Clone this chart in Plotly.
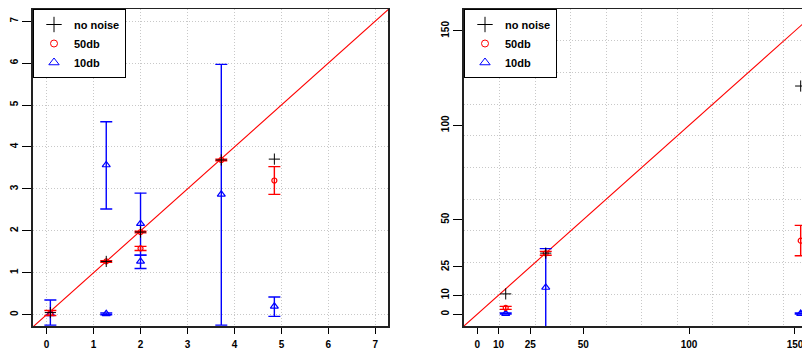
import plotly.graph_objects as go

# ---------------- data: left panel ----------------
L_nonoise_x = [0.08, 1.27, 2.00, 3.72, 4.85]
L_nonoise_y = [0.05, 1.27, 1.97, 3.69, 3.71]

L_50db_x  = [0.08, 1.27, 2.00, 2.00, 3.72, 4.85]
L_50db_y  = [0.04, 1.27, 1.97, 1.58, 3.69, 3.20]
L_50db_lo = [-0.02, 1.25, 1.95, 1.53, 3.67, 2.87]
L_50db_hi = [0.10, 1.29, 1.99, 1.63, 3.71, 3.53]

L_10db_x  = [0.08, 1.27, 1.27, 2.00, 2.00, 3.72, 4.85]
L_10db_y  = [0.02, 3.57, 0.02, 2.17, 1.27, 2.87, 0.20]
L_10db_lo = [-0.25, 2.52, 0.00, 1.42, 1.10, -0.25, -0.04]
L_10db_hi = [0.35, 4.60, 0.04, 2.90, 1.42, 5.97, 0.42]

L_ticks = [0, 1, 2, 3, 4, 5, 6, 7]
L_xrange = [-0.29, 7.27]
L_yrange = [-0.27, 7.29]

# ---------------- data: right panel ----------------
R_nonoise_x = [13.4, 32.3, 152.7]
R_nonoise_y = [10.7, 32.3, 120.8]

R_50db_x  = [13.4, 32.3, 152.7]
R_50db_y  = [3.3, 32.2, 38.9]
R_50db_lo = [2.5, 31.2, 30.9]
R_50db_hi = [4.1, 33.2, 47.0]

R_10db_x  = [13.4, 32.3, 152.7]
R_10db_y  = [0.3, 14.1, 0.3]
R_10db_lo = [0.0, -20.0, 0.0]
R_10db_hi = [0.6, 34.7, 0.6]

R_ticks = [0, 10, 25, 50, 100, 150]
R_xrange = [-6.3, 157.1]
R_yrange = [-6.3, 161.6]

RED = "#FF0000"
BLUE = "#0000FF"
BLACK = "#000000"

fig = go.Figure()


def add_panel(xa, ya, nx, ny, fx, fy, flo, fhi, tx, ty, tlo, thi, rng, leg):
    # diagonal y = x
    fig.add_trace(go.Scatter(x=[rng[0], rng[1] + 20 * (rng[1] - rng[0])],
                             y=[rng[0], rng[1] + 20 * (rng[1] - rng[0])],
                             mode="lines", line=dict(color=RED, width=1.1),
                             xaxis=xa, yaxis=ya, showlegend=False, hoverinfo="skip"))
    # 10db
    fig.add_trace(go.Scatter(
        x=tx, y=ty, mode="markers", xaxis=xa, yaxis=ya, showlegend=False,
        marker=dict(symbol="triangle-up-open", size=7, color=BLUE, line=dict(width=1.2, color=BLUE)),
        error_y=dict(type="data", symmetric=False,
                     array=[h - v for h, v in zip(thi, ty)],
                     arrayminus=[v - l for l, v in zip(tlo, ty)],
                     color=BLUE, thickness=1.4, width=6)))
    # 50db
    fig.add_trace(go.Scatter(
        x=fx, y=fy, mode="markers", xaxis=xa, yaxis=ya, showlegend=False,
        marker=dict(symbol="circle-open", size=5, color=RED, line=dict(width=1.2, color=RED)),
        error_y=dict(type="data", symmetric=False,
                     array=[h - v for h, v in zip(fhi, fy)],
                     arrayminus=[v - l for l, v in zip(flo, fy)],
                     color=RED, thickness=1.4, width=6)))
    # no noise
    fig.add_trace(go.Scatter(
        x=nx, y=ny, mode="markers", xaxis=xa, yaxis=ya, showlegend=False,
        marker=dict(symbol="cross-thin-open", size=8, color=BLACK, line=dict(width=1, color=BLACK))))
    # legend-only entries
    fig.add_trace(go.Scatter(x=[None], y=[None], mode="markers", name="no noise", legend=leg,
                             xaxis=xa, yaxis=ya,
                             marker=dict(symbol="cross-thin-open", size=11, color=BLACK,
                                         line=dict(width=1, color=BLACK))))
    fig.add_trace(go.Scatter(x=[None], y=[None], mode="markers", name="50db", legend=leg,
                             xaxis=xa, yaxis=ya,
                             marker=dict(symbol="circle-open", size=7, color=RED,
                                         line=dict(width=1, color=RED))))
    fig.add_trace(go.Scatter(x=[None], y=[None], mode="markers", name="10db", legend=leg,
                             xaxis=xa, yaxis=ya,
                             marker=dict(symbol="triangle-up-open", size=9, color=BLUE,
                                         line=dict(width=1, color=BLUE))))


add_panel("x", "y", L_nonoise_x, L_nonoise_y, L_50db_x, L_50db_y, L_50db_lo, L_50db_hi,
          L_10db_x, L_10db_y, L_10db_lo, L_10db_hi, L_xrange, "legend")
add_panel("x2", "y2", R_nonoise_x, R_nonoise_y, R_50db_x, R_50db_y, R_50db_lo, R_50db_hi,
          R_10db_x, R_10db_y, R_10db_lo, R_10db_hi, R_xrange, "legend2")

tickfont = dict(family="Liberation Sans, Arial, sans-serif", size=10, color="black", weight="bold")
GRID = "#C8C8C8"
GDASH = "1px,2px"
LINE = "#222222"

# page body has an 8px margin: the figure is sized so it ends at the window edge
W, H = 802, 341
ML, MR, MT, MB = 25, 0, 1, 23
pw = W - ML - MR
left_dom = [0, 355 / pw]
right_dom = [431 / pw, 1.0]

common_x = dict(showline=True, linecolor=LINE, linewidth=1.5, ticks="outside", ticklen=6,
                tickcolor="black", tickwidth=1, tickfont=tickfont, zeroline=False,
                ticklabelstandoff=2)
common_y = dict(showline=True, linecolor=LINE, linewidth=1.5, ticks="outside", ticklen=9,
                tickcolor="black", tickwidth=1, tickfont=tickfont, zeroline=False,
                tickangle=-90, ticklabelstandoff=0)

R_step = (R_yrange[1] - R_yrange[0]) / 10

legfont = dict(family="Liberation Sans, Arial, sans-serif", size=11, color="black", weight="bold")

fig.update_layout(
    width=W, height=H, margin=dict(l=ML, r=MR, t=MT, b=MB, autoexpand=False),
    paper_bgcolor="white", plot_bgcolor="white",
    xaxis=dict(domain=left_dom, range=L_xrange, tickvals=L_ticks, mirror=True,
               showgrid=True, gridcolor=GRID, griddash=GDASH, gridwidth=1, anchor="y", **common_x),
    yaxis=dict(domain=[0, 1], range=L_yrange, tickvals=L_ticks, mirror=True,
               showgrid=True, gridcolor=GRID, griddash=GDASH, gridwidth=1, anchor="x", **common_y),
    xaxis2=dict(domain=right_dom, range=R_xrange, tickvals=R_ticks, mirror=True,
                showgrid=False, anchor="y2",
                minor=dict(tickmode="linear", tick0=R_xrange[0], dtick=R_step, showgrid=True,
                           gridcolor=GRID, griddash=GDASH, gridwidth=1, ticks=""),
                **common_x),
    yaxis2=dict(domain=[0, 1], range=R_yrange, tickvals=R_ticks, mirror=False,
                showgrid=False, anchor="x2",
                minor=dict(tickmode="linear", tick0=R_yrange[0], dtick=R_step, showgrid=True,
                           gridcolor=GRID, griddash=GDASH, gridwidth=1, ticks=""),
                **common_y),
    legend=dict(x=left_dom[0], y=1, xanchor="left", yanchor="top", bgcolor="white",
                bordercolor="black", borderwidth=1, font=legfont,
                itemwidth=30, tracegroupgap=0),
    legend2=dict(x=right_dom[0], y=1, xanchor="left", yanchor="top", bgcolor="white",
                 bordercolor="black", borderwidth=1, font=legfont,
                 itemwidth=30, tracegroupgap=0),
)

fig.write_html("out.html")
